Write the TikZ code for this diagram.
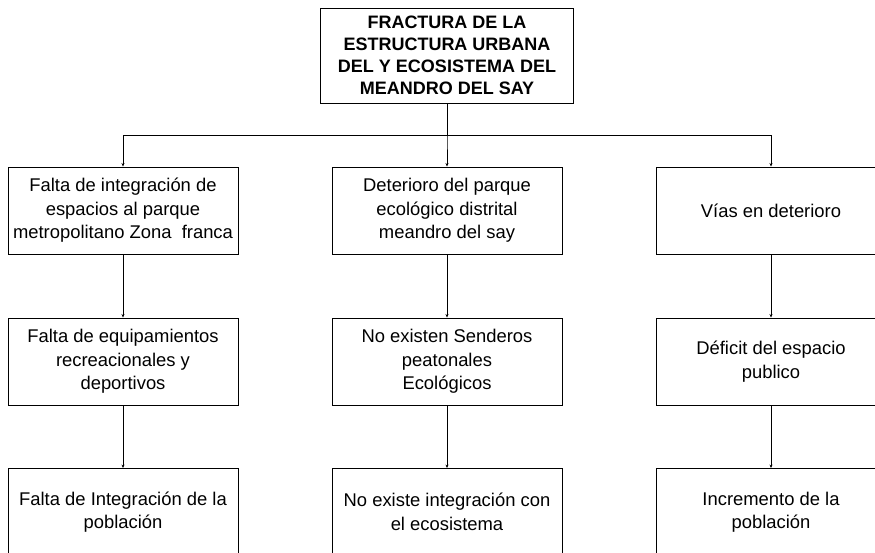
\documentclass[tikz,border=0pt]{standalone}
\usepackage{fontspec}
\setmainfont{Liberation Sans}
\usetikzlibrary{arrows.meta}

\begin{document}
\begin{tikzpicture}[>={Stealth[length=3.5pt, width=3pt]}, line width=0.9pt]
			\path[use as bounding box, clip] (0,0) rectangle (875pt,-552pt);
			\tikzstyle{rootnode}=[
			draw,
			rectangle,
			minimum width=253pt,
			minimum height=95pt,
			align=center,
			font=\bfseries\fontsize{18}{22}\selectfont
			]
			\tikzstyle{causenode}=[
			draw,
			rectangle,
			minimum width=230pt,
			minimum height=87pt,
			align=center,
			font=\fontsize{18.4}{23.5}\selectfont
			]
			\tikzstyle{level 1}=[sibling distance=324pt, level distance=155pt,
			edge from parent path={(\tikzparentnode.south) -- ++(0,-32pt) -| (\tikzchildnode.north)}]
			\tikzstyle{level 2}=[level distance=151pt,
			edge from parent path={(\tikzparentnode.south) -- (\tikzchildnode.north)}]
			\tikzstyle{level 3}=[level distance=150.5pt]
			\node[rootnode] (ROOT) at (447pt,-55.5pt) {FRACTURA DE LA\\ ESTRUCTURA URBANA\\ DEL Y ECOSISTEMA DEL\\ MEANDRO DEL SAY} [->]
			child {node[causenode] (LEFT) {Falta de integración de\\ espacios al parque\\ metropolitano Zona\ \ franca}
				child {node[causenode] (A) {Falta de equipamientos\\ recreacionales y\\ deportivos}
					child {node[causenode] (B) {Falta de Integración de la\\ población}}
				}
			}
			child {node[causenode] (MID) {Deterioro del parque\\ ecológico distrital\\ meandro del say}
				child {node[causenode] (C) {No existen Senderos\\ peatonales\\ Ecológicos}
					child {node[causenode] (D) {No existe integración con\\ el ecosistema}}
				}
			}
			child {node[causenode] (RIGHT) {Vías en deterioro}
				child {node[causenode] (E) {Déficit del espacio\\ publico}
					child {node[causenode] (F) {Incremento de la\\ población}}
				}
			};
		\end{tikzpicture}
\end{document}
